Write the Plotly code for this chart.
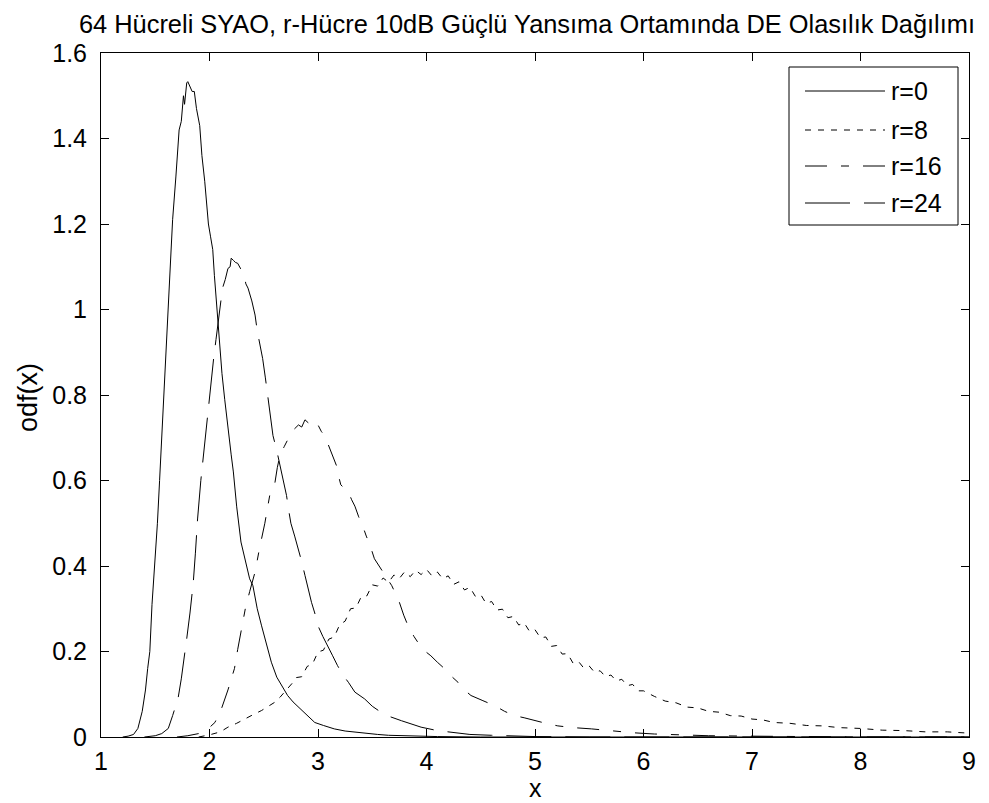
import plotly.graph_objects as go

title_text = "64 Hücreli SYAO, r-Hücre 10dB Güçlü Yansıma Ortamında DE Olasılık Dağılımı"
x_label = "x"
y_label = "odf(x)"
series_names = ["r=0", "r=8", "r=16", "r=24"]

# r=0 (solid)
x_r0 = [1.20, 1.25, 1.30, 1.34, 1.38, 1.41, 1.43, 1.45, 1.47, 1.495, 1.52, 1.54, 1.56, 1.58, 1.60,
        1.62, 1.64, 1.66, 1.69, 1.72, 1.74, 1.76, 1.77, 1.79, 1.80, 1.82, 1.84, 1.86, 1.88, 1.91,
        1.93, 1.956, 1.97, 1.99, 2.01, 2.03, 2.045, 2.06, 2.075, 2.09, 2.115, 2.14, 2.17, 2.20, 2.22,
        2.25, 2.29, 2.33, 2.37, 2.40, 2.44, 2.48, 2.52, 2.57, 2.62, 2.68, 2.72, 2.77, 2.82, 2.90,
        2.97, 3.05, 3.15, 3.25, 3.35, 3.45, 3.55, 3.65, 3.75, 3.90, 4.10, 4.50, 5.0, 6.0, 7.0, 8.0, 9.0]
y_r0 = [0.0, 0.002, 0.006, 0.02, 0.06, 0.11, 0.16, 0.20, 0.31, 0.40, 0.50, 0.60, 0.70, 0.80, 0.89,
        1.00, 1.10, 1.21, 1.31, 1.42, 1.44, 1.50, 1.48, 1.53, 1.533, 1.52, 1.51, 1.51, 1.47, 1.43,
        1.36, 1.30, 1.25, 1.20, 1.17, 1.14, 1.08, 1.03, 0.98, 0.92, 0.85, 0.79, 0.72, 0.66, 0.62,
        0.54, 0.456, 0.41, 0.37, 0.354, 0.30, 0.26, 0.22, 0.175, 0.14, 0.116, 0.097, 0.082, 0.07, 0.05,
        0.034, 0.027, 0.019, 0.014, 0.011, 0.008, 0.006, 0.004, 0.003, 0.002, 0.001, 0.0, 0.0, 0.0, 0.0, 0.0, 0.0]

# r=8 (dotted)
x_r8 = [1.90, 2.00, 2.10, 2.17, 2.25, 2.32, 2.40, 2.48, 2.55, 2.60, 2.65, 2.69, 2.73, 2.77,
        2.80, 2.85, 2.90, 2.95, 3.00, 3.05, 3.10, 3.15, 3.20, 3.25, 3.30, 3.35, 3.40, 3.45, 3.50,
        3.55, 3.60, 3.65, 3.70, 3.75, 3.80, 3.85, 3.90, 3.95, 4.00, 4.05, 4.10, 4.15, 4.20, 4.25,
        4.30, 4.35, 4.40, 4.45, 4.50, 4.55, 4.60, 4.65, 4.70, 4.75, 4.80, 4.85, 4.90, 4.95, 5.00,
        5.05, 5.10, 5.15, 5.20, 5.25, 5.30, 5.35, 5.40, 5.45, 5.50, 5.55, 5.60, 5.65, 5.70, 5.75,
        5.80, 5.85, 5.90, 5.95, 6.00, 6.10, 6.20, 6.30, 6.40, 6.50, 6.60, 6.70, 6.80, 6.90, 7.00,
        7.10, 7.20, 7.35, 7.50, 7.65, 7.80, 8.00, 8.20, 8.40, 8.60, 8.80, 9.00]
y_r8 = [0.0, 0.005, 0.012, 0.023, 0.032, 0.042, 0.052, 0.062, 0.072, 0.081, 0.093, 0.105, 0.115, 0.128,
        0.139, 0.141, 0.165, 0.171, 0.199, 0.203, 0.229, 0.234, 0.263, 0.271, 0.300, 0.302, 0.329, 0.330, 0.356,
        0.353, 0.372, 0.362, 0.379, 0.371, 0.387, 0.375, 0.390, 0.380, 0.392, 0.377, 0.386, 0.370, 0.377, 0.357,
        0.363, 0.344, 0.350, 0.329, 0.333, 0.312, 0.317, 0.297, 0.299, 0.279, 0.282, 0.262, 0.267, 0.247, 0.251,
        0.232, 0.234, 0.212, 0.214, 0.194, 0.195, 0.173, 0.177, 0.161, 0.166, 0.151, 0.155, 0.141, 0.145, 0.131,
        0.135, 0.120, 0.123, 0.108, 0.108, 0.095, 0.084, 0.080, 0.070, 0.068, 0.060, 0.058, 0.050, 0.049, 0.042,
        0.040, 0.034, 0.032, 0.027, 0.026, 0.022, 0.020, 0.016, 0.015, 0.012, 0.012, 0.009]

# r=16 (dash-dot)
x_r16 = [1.70, 1.80, 1.90, 1.99, 2.05, 2.11, 2.17, 2.20, 2.23, 2.26, 2.29, 2.33, 2.37, 2.42, 2.46,
         2.51, 2.555, 2.60, 2.625, 2.65, 2.69, 2.72, 2.75, 2.78, 2.82, 2.85, 2.88, 2.91, 2.94, 2.97,
         3.00, 3.03, 3.06, 3.085, 3.11, 3.14, 3.17, 3.19, 3.21, 3.25, 3.28, 3.31, 3.34, 3.375, 3.41,
         3.445, 3.48, 3.52, 3.55, 3.58, 3.63, 3.68, 3.715, 3.75, 3.79, 3.83, 3.885, 3.94, 3.99, 4.04,
         4.10, 4.17, 4.23, 4.29, 4.35, 4.41, 4.52, 4.63, 4.72, 4.81, 4.90, 5.00, 5.10, 5.21, 5.35,
         5.52, 5.70, 5.90, 6.10, 6.30, 6.60, 7.00, 7.50, 8.00, 9.00]
y_r16 = [0.0, 0.003, 0.008, 0.02, 0.034, 0.066, 0.11, 0.135, 0.16, 0.205, 0.25, 0.30, 0.34, 0.386, 0.44,
         0.50, 0.565, 0.59, 0.63, 0.66, 0.68, 0.695, 0.71, 0.72, 0.73, 0.725, 0.742, 0.735, 0.74, 0.728,
         0.73, 0.715, 0.705, 0.69, 0.675, 0.655, 0.635, 0.61, 0.59, 0.58, 0.573, 0.555, 0.54, 0.515, 0.495,
         0.47, 0.448, 0.417, 0.405, 0.393, 0.372, 0.354, 0.335, 0.315, 0.285, 0.26, 0.235, 0.214, 0.20, 0.19,
         0.175, 0.159, 0.142, 0.128, 0.11, 0.097, 0.085, 0.073, 0.06, 0.05, 0.045, 0.038, 0.032, 0.026, 0.022,
         0.019, 0.014, 0.01, 0.007, 0.005, 0.003, 0.002, 0.001, 0.0, 0.0]

# r=24 (dashed)
x_r24 = [1.40, 1.50, 1.56, 1.60, 1.62, 1.66, 1.71, 1.74, 1.765, 1.79, 1.82, 1.85, 1.87, 1.89, 1.92,
         1.956, 1.99, 2.02, 2.04, 2.06, 2.08, 2.10, 2.12, 2.145, 2.17, 2.19, 2.20, 2.22, 2.24, 2.26,
         2.29, 2.32, 2.335, 2.355, 2.39, 2.42, 2.44, 2.46, 2.49, 2.515, 2.54, 2.56, 2.585, 2.62, 2.65,
         2.68, 2.71, 2.73, 2.75, 2.785, 2.82, 2.85, 2.88, 2.91, 2.94, 2.97, 3.00, 3.045, 3.09, 3.135,
         3.18, 3.23, 3.28, 3.34, 3.43, 3.50, 3.58, 3.67, 3.77, 3.86, 3.95, 4.10, 4.25, 4.40, 4.60,
         4.80, 5.00, 5.50, 9.00]
y_r24 = [0.0, 0.003, 0.008, 0.015, 0.02, 0.05, 0.09, 0.136, 0.18, 0.23, 0.29, 0.36, 0.43, 0.51, 0.60,
         0.69, 0.77, 0.84, 0.89, 0.93, 0.97, 1.02, 1.05, 1.07, 1.096, 1.10, 1.12, 1.115, 1.11, 1.108,
         1.095, 1.08, 1.06, 1.05, 1.02, 0.987, 0.95, 0.924, 0.885, 0.84, 0.79, 0.75, 0.705, 0.67, 0.635,
         0.60, 0.565, 0.53, 0.50, 0.47, 0.44, 0.41, 0.378, 0.345, 0.315, 0.29, 0.26, 0.235, 0.214, 0.19,
         0.167, 0.145, 0.128, 0.105, 0.089, 0.072, 0.058, 0.047, 0.038, 0.03, 0.023, 0.015, 0.01, 0.006, 0.004,
         0.002, 0.001, 0.0, 0.0]

xs = [x_r0, x_r8, x_r16, x_r24]
ys = [y_r0, y_r8, y_r16, y_r24]
dashes = ["solid", "6px,7px", "22px,14px,8px,14px", "45px,14px"]

FONT = "Liberation Sans, Arial, sans-serif"
FS = 25

fig = go.Figure()
for x, y, d, n in zip(xs, ys, dashes, series_names):
    fig.add_trace(go.Scatter(x=x, y=y, mode="lines", name=n, showlegend=False,
                             line=dict(color="black", width=1, dash=d)))

# Legend drawn in the axes' paper space
W, H = 989, 803
L, R, T, B = 93, 28, 45, 74
pw, ph = W - L - R, H - T - B
px = lambda v: (v - L) / pw
py = lambda v: (H - B - v) / ph

shapes = [dict(type="rect", xref="paper", yref="paper", x0=px(781), x1=px(950), y0=py(217), y1=py(59),
               line=dict(color="black", width=1), fillcolor="white", layer="above")]
annotations = []
leg_y = [83, 122, 158, 195]
for yy, d, n in zip(leg_y, dashes, series_names):
    shapes.append(dict(type="line", xref="paper", yref="paper", x0=px(797), x1=px(877), y0=py(yy), y1=py(yy),
                       line=dict(color="black", width=1, dash=d), layer="above"))
    annotations.append(dict(xref="paper", yref="paper", x=px(881), y=py(yy), text=n, showarrow=False,
                            xanchor="left", yanchor="middle", font=dict(family=FONT, size=FS, color="black")))

# x-axis label placed just below the tick labels
annotations.append(dict(xref="paper", yref="paper", x=0.5, y=py(780), text=x_label, showarrow=False,
                        xanchor="center", yanchor="middle", font=dict(family=FONT, size=FS, color="black")))
# y-axis label
annotations.append(dict(xref="paper", yref="paper", x=px(20), y=py(390), text=y_label, showarrow=False,
                        textangle=-90, xanchor="center", yanchor="middle",
                        font=dict(family=FONT, size=27, color="black")))

fig.update_layout(
    width=W, height=H,
    margin=dict(l=L, r=R, t=T, b=B, autoexpand=False),
    paper_bgcolor="white", plot_bgcolor="white",
    font=dict(family=FONT, size=FS, color="black"),
    title=dict(text=title_text, x=px(519), xref="paper", xanchor="center",
               y=1 - 16 / H, yref="container", yanchor="middle",
               font=dict(family=FONT, size=25.4, color="black")),
    shapes=shapes, annotations=annotations,
    xaxis=dict(range=[1, 9], dtick=1, tick0=1, showgrid=False, zeroline=False, showline=True, linecolor="black",
               linewidth=1, mirror="allticks", ticks="inside", ticklen=8, tickcolor="black",
               ticklabelstandoff=2, automargin=False),
    yaxis=dict(range=[0, 1.6], dtick=0.2, tick0=0, showgrid=False, zeroline=False, showline=True, linecolor="black",
               linewidth=1, mirror="allticks", ticks="inside", ticklen=8, tickcolor="black",
               ticklabelstandoff=8, automargin=False),
)

fig.write_html("out.html")
